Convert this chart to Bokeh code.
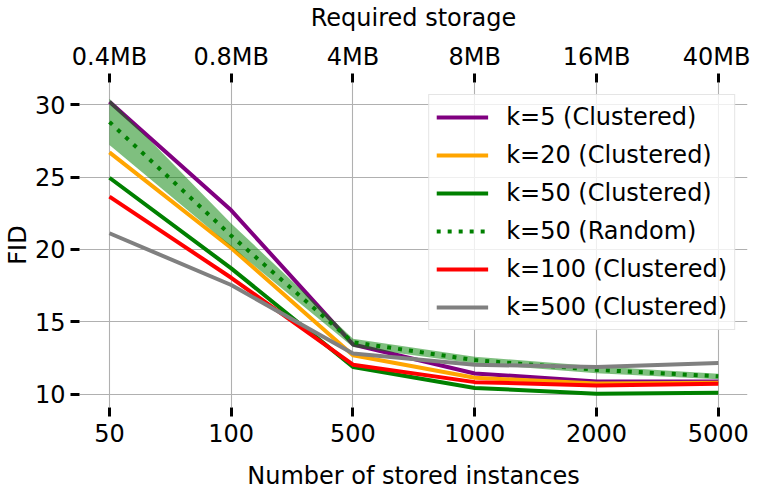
from bokeh.plotting import figure
from bokeh.models import (Range1d, FixedTicker, LinearAxis, Legend, LegendItem)
from bokeh.embed import file_html
from bokeh.resources import INLINE

# ---- data ----
instances = ["50", "100", "500", "1000", "2000", "5000"]
storage = ["0.4MB", "0.8MB", "4MB", "8MB", "16MB", "40MB"]

k5_clustered = [30.2, 22.7, 13.45, 11.45, 10.9, 10.9]
k20_clustered = [26.7, 20.1, 12.7, 11.15, 10.75, 10.8]
k50_clustered = [24.95, 18.7, 11.9, 10.45, 10.05, 10.12]
k50_random = [28.8, 20.95, 13.6, 12.37, 11.7, 11.25]
k50_random_lo = [27.2, 20.2, 13.27, 12.13, 11.47, 11.05]
k50_random_hi = [30.4, 21.8, 13.85, 12.6, 11.95, 11.43]
k100_clustered = [23.65, 18.05, 12.05, 10.85, 10.62, 10.74]
k500_clustered = [21.12, 17.55, 12.82, 12.05, 11.89, 12.17]

y_ticks = [10, 15, 20, 25, 30]

FONT = "DejaVu Sans"
FS = "24px"

x = list(range(len(instances)))

p = figure(frame_width=668, frame_height=325, output_backend="svg", toolbar_location=None,
           x_range=Range1d(-0.246, 5.24), y_range=Range1d(9.1, 31.52),
           min_border_left=72, min_border_right=3, min_border_top=80,
           min_border_bottom=77)
p.outline_line_color = None
p.background_fill_color = "white"
p.border_fill_color = "white"

# grid
p.xgrid.ticker = FixedTicker(ticks=x)
p.ygrid.ticker = FixedTicker(ticks=y_ticks)
for g in (p.xgrid, p.ygrid):
    g.grid_line_color = "#b0b0b0"
    g.grid_line_width = 1.1

def style_axis(ax, standoff):
    ax.axis_line_color = None
    ax.major_tick_line_color = "black"
    ax.major_tick_line_width = 3
    ax.major_tick_out = 9
    ax.major_tick_in = 0
    ax.minor_tick_line_color = None
    ax.major_label_text_font = FONT
    ax.major_label_text_font_size = FS
    ax.major_label_text_color = "black"
    ax.major_label_standoff = standoff
    ax.axis_label_text_font = FONT
    ax.axis_label_text_font_size = FS
    ax.axis_label_text_font_style = "normal"
    ax.axis_label_text_color = "black"

xa = p.xaxis[0]
xa.ticker = FixedTicker(ticks=x)
xa.major_label_overrides = {i: s for i, s in zip(x, instances)}
xa.axis_label = "Number of stored instances"
style_axis(xa, 7)
xa.axis_label_standoff = 17

ya = p.yaxis[0]
ya.ticker = FixedTicker(ticks=y_ticks)
ya.axis_label = "FID"
style_axis(ya, 5)
ya.axis_label_standoff = 0

top = LinearAxis(ticker=FixedTicker(ticks=x),
                 major_label_overrides={i: s for i, s in zip(x, storage)},
                 axis_label="Required storage")
style_axis(top, 3)
top.axis_label_standoff = 8
p.add_layout(top, "above")

LW = 4
r5 = p.line(x, k5_clustered, line_color="purple", line_width=LW)
r20 = p.line(x, k20_clustered, line_color="orange", line_width=LW)
r50 = p.line(x, k50_clustered, line_color="green", line_width=LW)
p.varea(x=x, y1=k50_random_lo, y2=k50_random_hi, fill_color="green", fill_alpha=0.5)
r50r = p.line(x, k50_random, line_color="green", line_width=LW, line_dash="4 7")
r100 = p.line(x, k100_clustered, line_color="red", line_width=LW)
r500 = p.line(x, k500_clustered, line_color="gray", line_width=LW)

legend = Legend(items=[
    LegendItem(label="k=5 (Clustered)", renderers=[r5]),
    LegendItem(label="k=20 (Clustered)", renderers=[r20]),
    LegendItem(label="k=50 (Clustered)", renderers=[r50]),
    LegendItem(label="k=50 (Random)", renderers=[r50r]),
    LegendItem(label="k=100 (Clustered)", renderers=[r100]),
    LegendItem(label="k=500 (Clustered)", renderers=[r500]),
], location="top_right")
legend.margin = 12
legend.padding = 7
legend.spacing = 8
legend.glyph_width = 52
legend.glyph_height = 30
legend.label_height = 30
legend.label_standoff = 18
legend.label_text_font = FONT
legend.label_text_font_size = FS
legend.label_text_color = "black"
legend.border_line_color = "#cccccc"
legend.border_line_width = 1
legend.background_fill_alpha = 0.8
p.add_layout(legend)

open("out.html", "w").write(file_html(p, INLINE))
